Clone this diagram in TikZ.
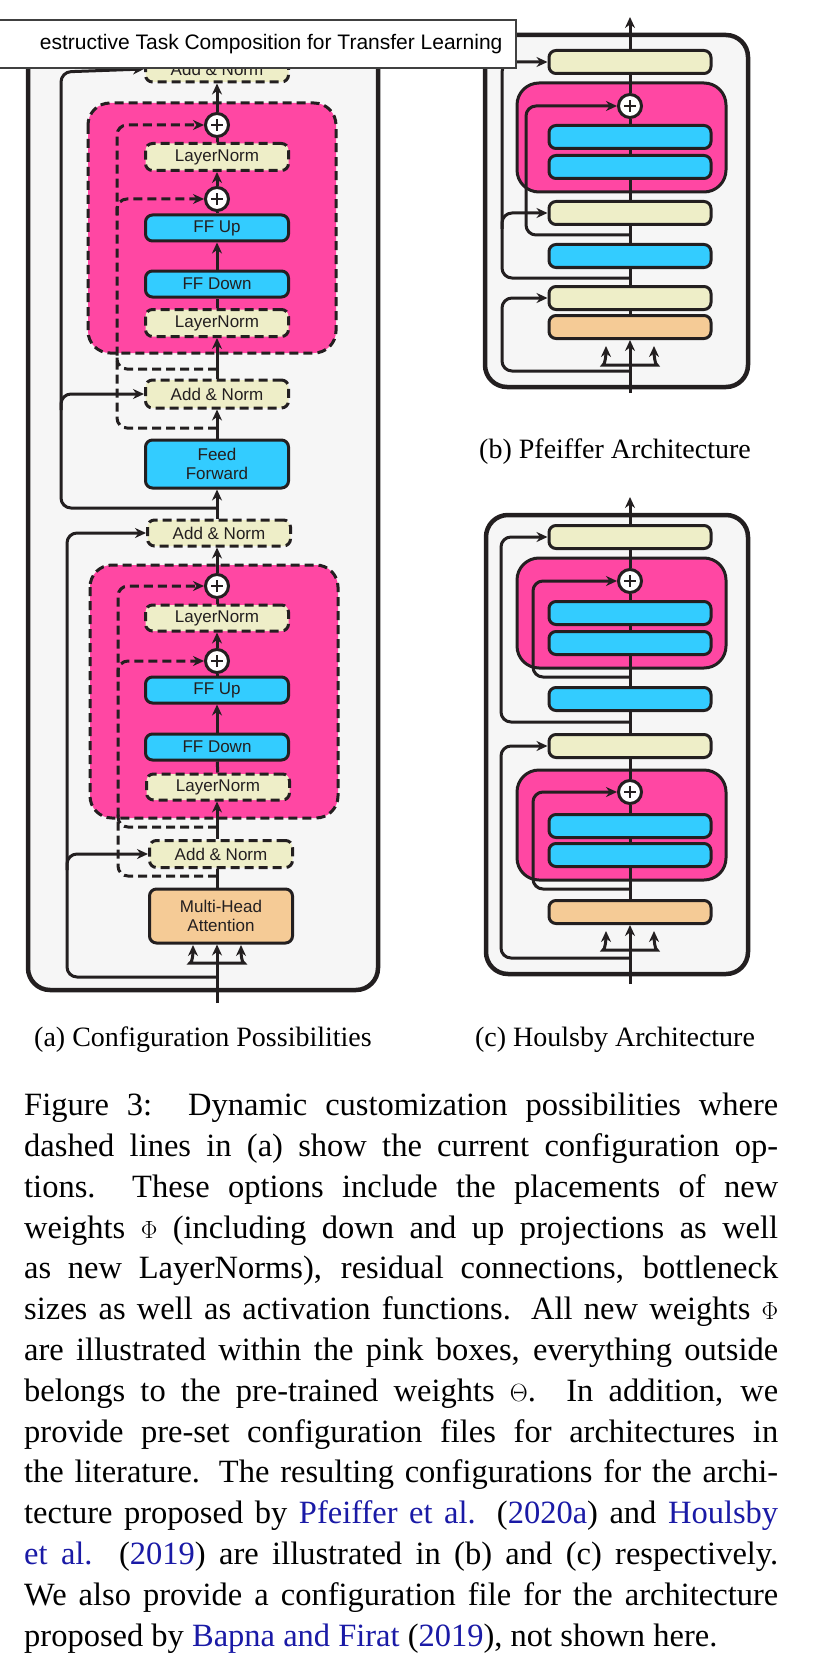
\documentclass[tikz,border=0pt]{standalone}
\usepackage{fontspec}
\setmainfont{Liberation Serif}
\setsansfont{Liberation Sans}
\usepackage{xcolor}
\usetikzlibrary{calc,arrows.meta}
\definecolor{ink}{HTML}{231F20}
\definecolor{panel}{HTML}{F6F6F6}
\definecolor{pinkw}{HTML}{FF47A3}
\definecolor{ffblue}{HTML}{33CCFF}
\definecolor{normc}{HTML}{EEEEC8}
\definecolor{attc}{HTML}{F5CB96}
\definecolor{citec}{HTML}{1A1AA6}
\tikzset{
  outer/.style={draw=ink, fill=panel, line width=4.5pt, rounded corners=22pt},
  pinkbox/.style={draw=ink, fill=pinkw, line width=3pt, rounded corners=22pt},
  box/.style={draw=ink, line width=3pt, rounded corners=7pt, minimum width=143pt, minimum height=26pt,
    inner sep=0pt, font=\sffamily\fontsize{17}{19}\selectfont, text=ink, align=center},
  lnorm/.style={box, fill=normc},
  ffbox/.style={box, fill=ffblue},
  attn/.style={box, fill=attc},
  opt/.style={dash pattern=on 9pt off 5pt},
  slim/.style={minimum width=162pt, minimum height=23pt},
  plusn/.style={circle, draw=ink, fill=white, line width=3pt, minimum size=23pt, inner sep=0pt,
    path picture={\draw[ink, line width=1.6pt]
      ($(path picture bounding box.center)+(-6pt,0)$) -- ($(path picture bounding box.center)+(6pt,0)$)
      ($(path picture bounding box.center)+(0,-6pt)$) -- ($(path picture bounding box.center)+(0,6pt)$);}},
  wire/.style={draw=ink, line width=3pt, rounded corners=10pt},
  arr/.style={wire, -{Stealth[length=11pt,width=10pt]}},
  sub/.style={font=\fontsize{28}{32}\selectfont, text=black},
}
\begin{document}
\begin{tikzpicture}[x=1pt,y=-1pt]
  \useasboundingbox (0,0) rectangle (826,1680);

  % ---- (a) configuration possibilities
  \draw[outer] (28,30) rectangle (378,990);
  \draw[pinkbox, opt] (88,103) rectangle (336,353);
  \draw[pinkbox, opt] (90,565) rectangle (338,818);

  \node[lnorm, opt] (anT) at (217,69) {Add \& Norm};
  \node[plusn] (pA1) at (217,125) {};
  \node[lnorm, opt, minimum height=27pt] (lnA1) at (217,157) {LayerNorm};
  \node[plusn] (pA2) at (217,199) {};
  \node[ffbox] (upA) at (217,228) {FF Up};
  \node[ffbox] (dnA) at (217,284) {FF Down};
  \node[lnorm, opt, minimum height=27pt] (lnA2) at (217,323) {LayerNorm};
  \node[lnorm, opt, minimum height=28pt] (anA) at (217,394) {Add \& Norm};
  \node[ffbox, minimum height=48pt] (ffw) at (217,464) {Feed\\Forward};
  \node[lnorm, opt] (anB) at (219,533) {Add \& Norm};
  \node[plusn] (pB1) at (217,586) {};
  \node[lnorm, opt] (lnB1) at (217,618) {LayerNorm};
  \node[plusn] (pB2) at (217,661) {};
  \node[ffbox] (upB) at (217,690) {FF Up};
  \node[ffbox] (dnB) at (217,747) {FF Down};
  \node[lnorm, opt] (lnB2) at (218,787) {LayerNorm};
  \node[lnorm, opt, minimum height=27pt] (anC) at (221,854) {Add \& Norm};
  \node[attn, minimum height=54pt] (mha) at (221,916) {Multi-Head\\Attention};

  \coordinate (inA) at (217,1003);
  \draw[arr] (inA) -- (inA|-mha.south);
  \draw[arr] (217,963) -- (200,963) to[out=180,in=-90] (193,945);
  \draw[arr] (217,963) -- (234,963) to[out=0,in=-90] (241,945);
  \draw[wire] (inA|-mha.north) -- (inA|-anC.south);
  \draw[arr] (inA|-anC.north) -- (inA|-lnB2.south);
  \draw[wire] (lnB2) -- (dnB);
  \draw[arr] (dnB) -- (upB);
  \draw[wire] (upB) -- (pB2);
  \draw[arr] (pB2) -- (lnB1);
  \draw[wire] (lnB1) -- (pB1);
  \draw[arr] (pB1) -- (inA|-anB.south);
  \draw[arr] (inA|-anB.north) -- (ffw);
  \draw[arr] (ffw) -- (anA);
  \draw[arr] (anA) -- (lnA2);
  \draw[wire] (lnA2) -- (dnA);
  \draw[arr] (dnA) -- (upA);
  \draw[wire] (upA) -- (pA2);
  \draw[arr] (pA2) -- (lnA1);
  \draw[wire] (lnA1) -- (pA1);
  \draw[arr] (pA1) -- (anT);

  % residual connections
  \draw[arr] (217,977) -- (67,977) -- (67,533) -- (anB.west);
  \draw[arr] (67,870) -- (67,854) -- (anC.west);
  \draw[arr] (217,508) -- (61,508) -- (61,72) -- (anT.west);
  \draw[arr] (61,410) -- (61,394) -- (anA.west);
  \draw[arr, opt] (217,428) -- (117,428) -- (117,125) -- (pA1.west);
  \draw[arr, opt] (117,215) -- (117,199) -- (pA2.west);
  \draw[wire, opt] (217,369) -- (117,369) -- (117,355);
  \draw[arr, opt] (217,876) -- (118,876) -- (118,586) -- (pB1.west);
  \draw[arr, opt] (118,677) -- (118,661) -- (pB2.west);
  \draw[wire, opt] (217,827) -- (118,827) -- (118,813);

  % ---- (b) Pfeiffer
  \draw[outer] (485,35) rectangle (748,387);
  \draw[pinkbox] (517,83) rectangle (726,192);
  \node[lnorm, slim] (bN1) at (630,62) {};
  \node[plusn] (bP) at (630,106) {};
  \node[ffbox, slim] (bU) at (630,137) {};
  \node[ffbox, slim] (bD) at (630,167) {};
  \node[lnorm, slim] (bN2) at (630,213) {};
  \node[ffbox, slim] (bF) at (630,256) {};
  \node[lnorm, slim] (bN3) at (630,298) {};
  \node[attn, slim] (bA) at (630,327) {};
  \coordinate (bIn) at (630,393);
  \coordinate (bOut) at (630,17);
  \draw[arr] (bIn) -- (bA);
  \draw[arr] (630,365) -- (613,365) to[out=180,in=-90] (606,346);
  \draw[arr] (630,365) -- (647,365) to[out=0,in=-90] (654,346);
  \draw[wire] (bA) -- (bN3) -- (bF) -- (bN2) -- (bD) -- (bU) -- (bP) -- (bN1);
  \draw[arr] (bN1) -- (bOut);
  \draw[arr] (630,235) -- (526,235) -- (526,106) -- (bP.west);
  \draw[arr] (630,278) -- (502,278) -- (502,62) -- (bN1.west);
  \draw[arr] (502,229) -- (502,213) -- (bN2.west);
  \draw[arr] (630,371) -- (502,371) -- (502,298) -- (bN3.west);

  % ---- (c) Houlsby
  \draw[outer] (486,515) rectangle (748,974);
  \draw[pinkbox] (517,558) rectangle (726,668);
  \draw[pinkbox] (517,770) rectangle (726,880);
  \node[lnorm, slim] (cN1) at (630,537) {};
  \node[plusn] (cP1) at (630,581) {};
  \node[ffbox, slim] (cU1) at (630,613) {};
  \node[ffbox, slim] (cD1) at (630,643) {};
  \node[ffbox, slim] (cF) at (630,699) {};
  \node[lnorm, slim] (cN2) at (630,746) {};
  \node[plusn] (cP2) at (630,792) {};
  \node[ffbox, slim] (cU2) at (630,826) {};
  \node[ffbox, slim] (cD2) at (630,855) {};
  \node[attn, slim] (cA) at (630,912) {};
  \coordinate (cIn) at (630,984);
  \coordinate (cOut) at (630,497);
  \draw[arr] (cIn) -- (cA);
  \draw[arr] (630,950) -- (613,950) to[out=180,in=-90] (606,931);
  \draw[arr] (630,950) -- (647,950) to[out=0,in=-90] (654,931);
  \draw[wire] (cA) -- (cD2) -- (cU2) -- (cP2) -- (cN2) -- (cF) -- (cD1) -- (cU1) -- (cP1) -- (cN1);
  \draw[arr] (cN1) -- (cOut);
  \draw[arr] (630,677) -- (533,677) -- (533,581) -- (cP1.west);
  \draw[arr] (630,889) -- (533,889) -- (533,792) -- (cP2.west);
  \draw[arr] (630,722) -- (501,722) -- (501,537) -- (cN1.west);
  \draw[arr] (630,958) -- (501,958) -- (501,746) -- (cN2.west);

  % ---- captions
  \node[sub] (capA) at (203,1040) {(a) Configuration Possibilities};
  \node[sub] (capB) at (615,452) {(b) Pfeiffer Architecture};
  \node[sub] (capC) at (615,1040) {(c) Houlsby Architecture};

  % page title strip
  \draw[fill=white, draw=black!75, line width=1.5pt] (-5,20) rectangle (516,68);
  \node[anchor=east, font=\sffamily\fontsize{21}{24}\selectfont] (ttl) at (506,44)
    {estructive Task Composition for Transfer Learning};

  \node[anchor=north west, text width=754pt, align=justify, inner sep=0pt,
    font=\fontsize{32.5}{40.8}\selectfont] (fig) at (24,1093)
  {\emergencystretch=3em Figure 3:\ \ Dynamic customization possibilities where\linebreak
   dashed lines in (a) show the current configuration op-\linebreak
   tions.\ \ These options include the placements of new\linebreak
   weights $\Phi$ (including down and up projections as well\linebreak
   as new LayerNorms), residual connections, bottleneck\linebreak
   sizes as well as activation functions. All new weights $\Phi$\linebreak
   are illustrated within the pink boxes, everything outside\linebreak
   belongs to the pre-trained weights $\Theta$.\ \ In addition, we\linebreak
   provide pre-set configuration files for architectures in\linebreak
   the literature. The resulting configurations for the archi-\linebreak
   tecture proposed by \textcolor{citec}{Pfeiffer et al.} (\textcolor{citec}{2020a}) and \textcolor{citec}{Houlsby}\linebreak
   \textcolor{citec}{et al.} (\textcolor{citec}{2019}) are illustrated in (b) and (c) respectively.\linebreak
   We also provide a configuration file for the architecture\linebreak
   proposed by \textcolor{citec}{Bapna and Firat} (\textcolor{citec}{2019}), not shown here.\par};
\end{tikzpicture}
\end{document}
